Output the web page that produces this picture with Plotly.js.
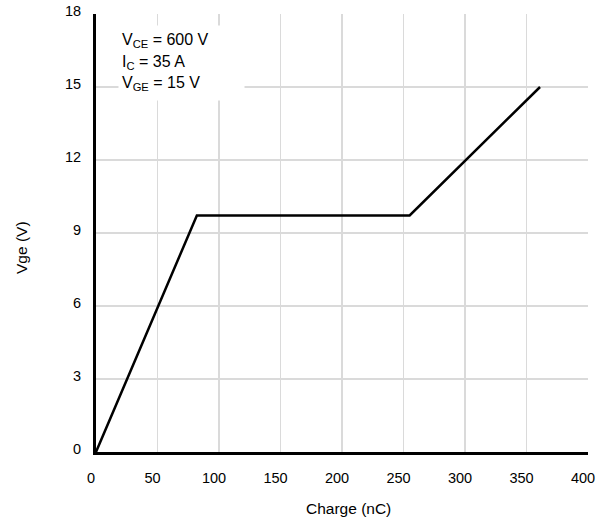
<!DOCTYPE html>
<html>
<head>
<meta charset="utf-8">
<script src="https://cdn.plot.ly/plotly-3.0.1.min.js"></script>
<style>html,body{margin:0;padding:0;background:#fff;}</style>
</head>
<body>
<div id="chart" style="width:606px;height:522px;"></div>
<script>
var chargeNC = [0, 82, 255, 361];
var vgeV = [0, 9.72, 9.72, 15];
var xTicks = [0, 50, 100, 150, 200, 250, 300, 350, 400];
var yTicks = [0, 3, 6, 9, 12, 15, 18];
var conditionLines = ["V<sub>CE</sub> = 600 V", "I<sub>C</sub> = 35 A", "V<sub>GE</sub> = 15 V"];

var font = "Liberation Sans, Arial, Helvetica, sans-serif";
var L = 96, T = 14, W = 492, H = 438;
function px2x(p) { return (p - L) / W; }
function px2y(p) { return (T + H - p) / H; }

var trace = {
  x: chargeNC, y: vgeV, mode: "lines", type: "scatter",
  line: {color: "#000", width: 2.5}, hoverinfo: "skip", showlegend: false
};

var lineY = [40.5, 62, 83.5];
var annotations = [
  {
    xref: "paper", yref: "paper", x: px2x(118), y: px2y(25), xanchor: "left", yanchor: "top",
    text: " ", showarrow: false, bgcolor: "#fff", borderpad: 0, width: 125, height: 74,
    font: {family: font, size: 16}
  }
];
conditionLines.forEach(function (t, i) {
  annotations.push({
    xref: "paper", yref: "paper", x: px2x(121), y: px2y(lineY[i]),
    xanchor: "left", yanchor: "middle", text: t, align: "left", showarrow: false,
    borderpad: 0, font: {family: font, size: 16, color: "#000"}
  });
});
annotations.push({
  xref: "paper", yref: "paper", x: px2x(348), y: px2y(508),
  xanchor: "center", yanchor: "middle", showarrow: false,
  text: "Charge (nC)", font: {family: font, size: 15.5, color: "#000"}
});
annotations.push({
  xref: "paper", yref: "paper", x: px2x(21), y: px2y(248),
  xanchor: "center", yanchor: "middle", showarrow: false, textangle: -90,
  text: "Vge (V)", font: {family: font, size: 15.5, color: "#000"}
});

var layout = {
  width: 606, height: 522,
  margin: {l: L, r: 606 - L - W, t: T, b: 522 - T - H, pad: 0},
  paper_bgcolor: "#fff", plot_bgcolor: "#fff",
  font: {family: font, size: 14, color: "#000"},
  xaxis: {
    range: [0, 400], tickvals: xTicks, ticktext: xTicks.map(String),
    showgrid: true, gridcolor: "#dadada", gridwidth: 1.6,
    zeroline: false, showline: true, linecolor: "#000", linewidth: 3,
    ticks: "", ticklabelstandoff: 11, ticklabelshift: -5,
    tickfont: {size: 14.5}
  },
  yaxis: {
    range: [0, 18], tickvals: yTicks, ticktext: yTicks.map(String),
    showgrid: true, gridcolor: "#dadada", gridwidth: 1.6,
    zeroline: false, showline: true, linecolor: "#000", linewidth: 3,
    ticks: "", ticklabelstandoff: 9, ticklabelshift: -3,
    tickfont: {size: 14.5}
  },
  annotations: annotations
};

Plotly.newPlot("chart", [trace], layout, {displayModeBar: false, staticPlot: true});
</script>
</body>
</html>
